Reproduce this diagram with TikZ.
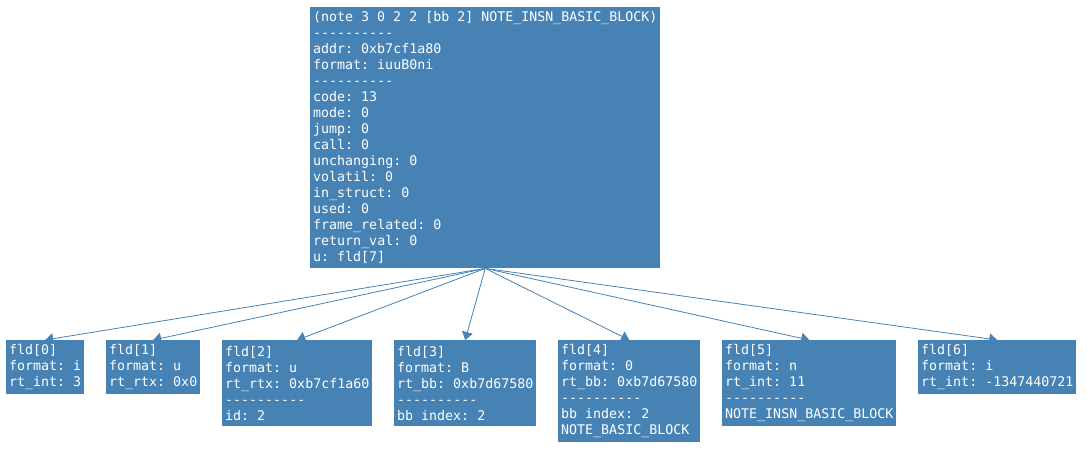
\documentclass[tikz,border=0pt]{standalone}
\usepackage{fontspec}
\newfontfamily\boxmono[WordSpace={1,0,0}]{DejaVu Sans Mono}
\newcommand\boxfont{\boxmono\fontsize{13.3}{16}\selectfont}
\newcommand\fixspace{\spaceskip=8pt plus 0pt minus 0pt\relax\xspaceskip=8pt plus 0pt minus 0pt\relax\rightskip=-30pt plus 1fil\relax\hyphenpenalty=10000\exhyphenpenalty=10000\relax}
\usetikzlibrary{arrows.meta}
\definecolor{sb}{HTML}{4682B4}
\begin{document}
\begin{tikzpicture}[x=1pt,y=-1pt,
  box/.style={fill=sb, draw=none, text=white, anchor=north west, inner xsep=3pt, inner ysep=0pt, align=left, font=\boxfont, execute at begin node=\fixspace},
  link/.style={draw=sb, line width=0.8pt, -{Triangle[length=8pt,width=11pt]}}]
\useasboundingbox (0,0) rectangle (1087,453);
\node[box, minimum width=350pt, minimum height=261pt, text width=344pt] (main) at (310,7)
 {(note 3 0 2 2 [bb 2] NOTE\_INSN\_BASIC\_BLOCK)\\----------\\addr: 0xb7cf1a80\\format: iuuB0ni\\----------\\code: 13\\mode: 0\\jump: 0\\call: 0\\unchanging: 0\\volatil: 0\\in\_struct: 0\\used: 0\\frame\_related: 0\\return\_val: 0\\u: fld[7]};
\node[box, minimum width=78pt, minimum height=54pt, text width=72pt] (f0) at (6,340)
 {fld[0]\\format: i\\rt\_int: 3};
\node[box, minimum width=94pt, minimum height=54pt, text width=88pt] (f1) at (106,340)
 {fld[1]\\format: u\\rt\_rtx: 0x0};
\node[box, minimum width=150pt, minimum height=86pt, text width=144pt] (f2) at (222,340)
 {fld[2]\\format: u\\rt\_rtx: 0xb7cf1a60\\----------\\id: 2};
\node[box, minimum width=142pt, minimum height=86pt, text width=136pt] (f3) at (394,340)
 {fld[3]\\format: B\\rt\_bb: 0xb7d67580\\----------\\bb index: 2};
\node[box, minimum width=142pt, minimum height=102pt, text width=136pt] (f4) at (558,340)
 {fld[4]\\format: 0\\rt\_bb: 0xb7d67580\\----------\\bb index: 2\\NOTE\_BASIC\_BLOCK};
\node[box, minimum width=174pt, minimum height=86pt, text width=168pt] (f5) at (722,340)
 {fld[5]\\format: n\\rt\_int: 11\\----------\\NOTE\_INSN\_BASIC\_BLOCK};
\node[box, minimum width=158pt, minimum height=54pt, text width=152pt] (f6) at (918,340)
 {fld[6]\\format: i\\rt\_int: -1347440721};
\foreach \n in {f0,f1,f2,f3,f4,f5,f6}
  \draw[link] (main.south) -- (\n.north);
\end{tikzpicture}
\end{document}
